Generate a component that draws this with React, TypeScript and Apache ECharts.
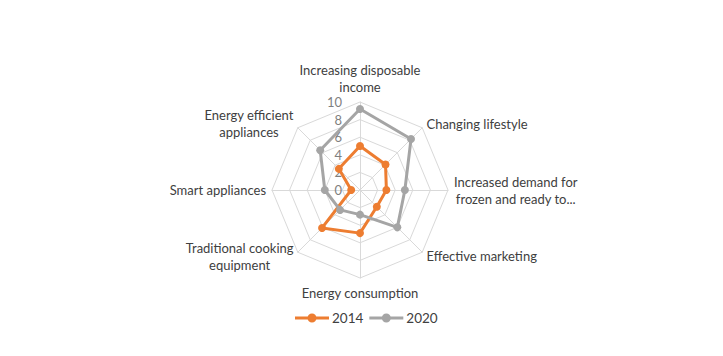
import React, { useEffect, useRef } from "react";
import * as echarts from "echarts";

// clockwise from top
const indicators = [
  "Increasing disposable\nincome",
  "Changing lifestyle",
  "Increased demand for\nfrozen and ready to...",
  "Effective marketing",
  "Energy consumption",
  "Traditional cooking\nequipment",
  "Smart appliances",
  "Energy efficient\nappliances",
];
const seriesNames = ["2014", "2020"];
const values2014 = [5.0, 4.1, 3.0, 2.7, 4.9, 6.1, 1.0, 3.4];
const values2020 = [9.2, 8.2, 5.1, 6.0, 2.8, 3.2, 4.0, 6.4];
const axisMax = 10;

// ECharts radar goes counter-clockwise; reorder to draw clockwise
const ccw = <T,>(arr: T[]): T[] => [arr[0], ...arr.slice(1).reverse()];

export default function App() {
  const ref = useRef<HTMLDivElement>(null);
  useEffect(() => {
    document.body.style.margin = "0";
    const chart = echarts.init(ref.current!, null, { renderer: "svg" });
    const font = "Lato";
    const legendIcon =
      "path://M0,3.5 L34,3.5 L34,6.5 L0,6.5 Z M21.5,5 A4.5,4.5 0 1 1 12.5,5 A4.5,4.5 0 1 1 21.5,5 Z";
    chart.setOption({
      animation: false,
      backgroundColor: "#ffffff",
      legend: {
        bottom: 26,
        left: 290,
        itemWidth: 34,
        itemHeight: 10,
        itemGap: 6,
        textStyle: { fontFamily: font, fontSize: 13.5, color: "#404040", padding: [0, 0, 0, -2] },
        data: seriesNames.map((n) => ({ name: n, icon: legendIcon })),
      },
      radar: {
        center: [360, 190],
        radius: 88,
        startAngle: 90,
        splitNumber: 5,
        nameGap: 6,
        shape: "polygon",
        axisName: {
          color: "#404040",
          fontFamily: font,
          fontSize: 13,
          lineHeight: 17,
          formatter: (name: string) =>
            name
              .split("\n")
              .map((l) => `{c|${l}}`)
              .join("\n"),
          rich: {
            c: {
              align: "center",
              color: "#404040",
              fontFamily: font,
              fontSize: 13,
              lineHeight: 17,
            },
          },
        },
        splitLine: { lineStyle: { color: "#d9d9d9", width: 1 } },
        splitArea: { show: false },
        axisLine: { lineStyle: { color: "#d9d9d9", width: 1 } },
        axisTick: { show: false },
        axisLabel: { show: false },
        indicator: ccw(indicators).map((name, i) =>
          i === 0
            ? {
                name,
                max: axisMax,
                min: 0,
                axisLabel: {
                  show: true,
                  color: "#7f7f7f",
                  fontFamily: font,
                  fontSize: 13,
                  margin: 0,
                  align: "right",
                  padding: [0, 18, 0, 0],
                },
              }
            : { name, max: axisMax, min: 0 }
        ),
      },
      series: [
        {
          type: "radar",
          symbol: "circle",
          symbolSize: 8,
          data: [
            {
              name: seriesNames[0],
              value: ccw(values2014),
              lineStyle: { color: "#ed7d31", width: 3 },
              itemStyle: { color: "#ed7d31" },
            },
            {
              name: seriesNames[1],
              value: ccw(values2020),
              lineStyle: { color: "#a5a5a5", width: 3 },
              itemStyle: { color: "#a5a5a5" },
            },
          ],
        },
      ],
      color: ["#ed7d31", "#a5a5a5"],
    });
    return () => chart.dispose();
  }, []);
  return <div ref={ref} style={{ width: 723, height: 356 }} />;
}
